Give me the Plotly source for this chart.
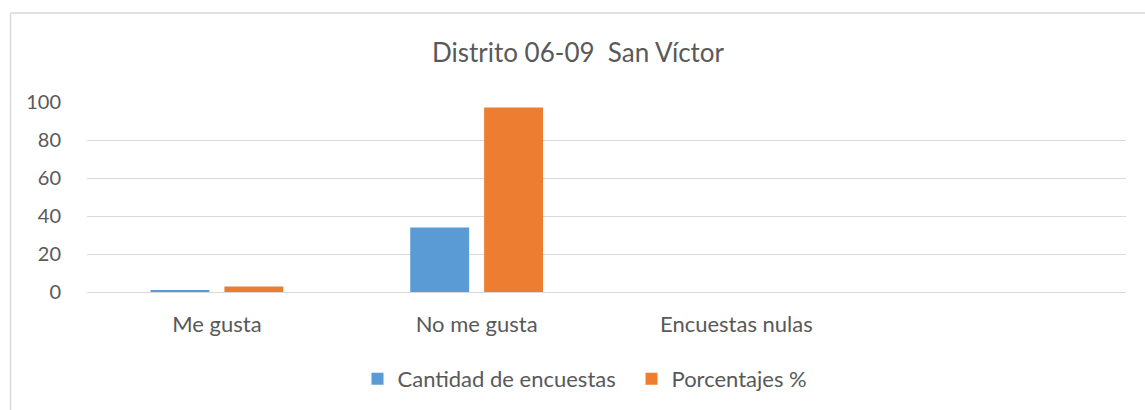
import plotly.graph_objects as go

categories = ["Me gusta", "No me gusta", "Encuestas nulas", " "]
cantidad = [1, 34, 0, None]
porcentajes = [2.86, 97.14, 0, None]
yticks = [0, 20, 40, 60, 80, 100]

W, H = 1145, 410
L, R, T, B = 87, 19, 102, 117
pw = W - L - R
ph = H - T - B

def px2x(px):
    return (px - L) / pw

def py2y(py):
    return (H - B - py) / ph

FONT = "Lato"
TXT = "#595959"

fig = go.Figure()
fig.add_trace(go.Bar(name="Cantidad de encuestas", x=categories, y=cantidad,
                     marker=dict(color="#5B9BD5", line=dict(width=0))))
fig.add_trace(go.Bar(name="Porcentajes %", x=categories, y=porcentajes,
                     marker=dict(color="#ED7D31", line=dict(width=0))))

fig.update_layout(
    width=W, height=H,
    margin=dict(l=L, r=R, t=T, b=B),
    paper_bgcolor="white", plot_bgcolor="white",
    barmode="group", bargap=0.431, bargroupgap=0.203,
    font=dict(family=FONT, color=TXT, size=22),
    title=dict(text="Distrito 06-09  San Víctor", x=578 / W, xanchor="center",
               y=1 - 53 / H, yanchor="middle",
               font=dict(family=FONT, size=26, color=TXT)),
    xaxis=dict(showgrid=False, showline=False, ticks="", zeroline=False,
               tickfont=dict(size=22, color=TXT), ticklabelstandoff=17),
    yaxis=dict(range=[0, 100], tickvals=yticks, showgrid=True, gridcolor="#D9D9D9",
               gridwidth=1, zeroline=True, zerolinecolor="#D9D9D9", zerolinewidth=1,
               showline=False, ticks="", tickfont=dict(size=20, color=TXT),
               ticklabelstandoff=25),
    legend=dict(orientation="h", x=px2x(631.5), xanchor="center", y=py2y(379), yanchor="middle",
                font=dict(size=22, color=TXT), itemwidth=30, traceorder="normal",
                entrywidth=229, entrywidthmode="pixels"),
    showlegend=True,
    shapes=[
        dict(type="line", xref="paper", yref="paper", x0=px2x(10.5), x1=px2x(10.5),
             y0=py2y(12.5), y1=py2y(420), line=dict(color="#D9D9D9", width=1.5)),
        dict(type="line", xref="paper", yref="paper", x0=px2x(10.5), x1=px2x(1150),
             y0=py2y(12.5), y1=py2y(12.5), line=dict(color="#D9D9D9", width=1.5)),
    ],
)

fig.write_html("out.html", config={"displayModeBar": False},
               post_script="document.body.style.margin='0';document.body.style.overflow='hidden';")
